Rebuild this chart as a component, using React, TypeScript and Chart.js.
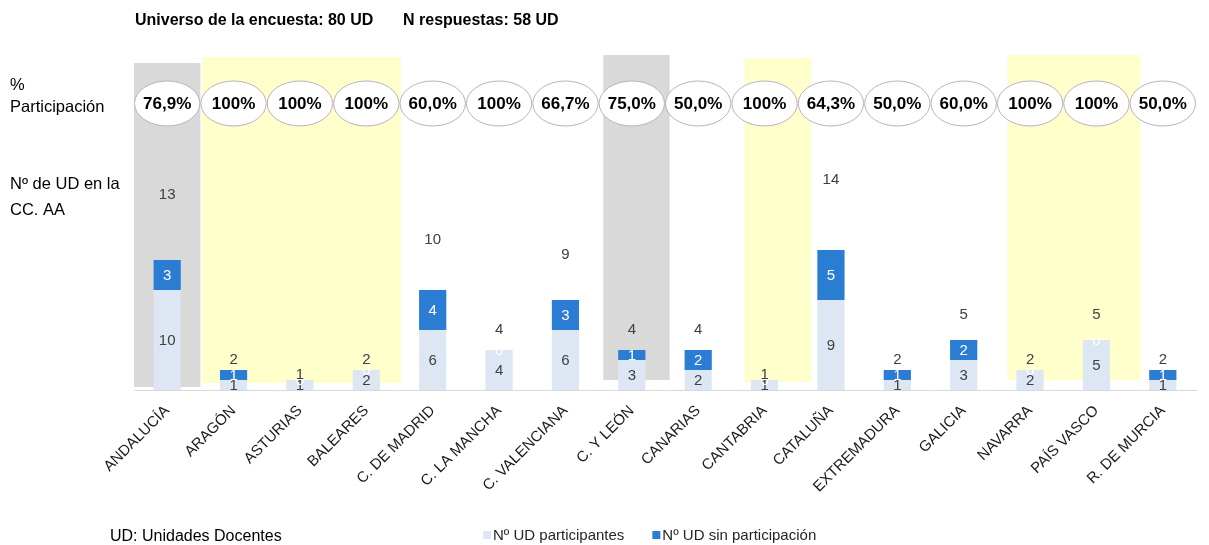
import React, { useEffect, useRef } from "react";
import { Chart, registerables } from "chart.js";

Chart.register(...registerables);

const categories = [
  "ANDALUCÍA", "ARAGÓN", "ASTURIAS", "BALEARES", "C. DE MADRID", "C. LA MANCHA",
  "C. VALENCIANA", "C. Y LEÓN", "CANARIAS", "CANTABRIA", "CATALUÑA", "EXTREMADURA",
  "GALICIA", "NAVARRA", "PAÍS VASCO", "R. DE MURCIA",
];
const participantes = [10, 1, 1, 2, 6, 4, 6, 3, 2, 1, 9, 1, 3, 2, 5, 1];
const sinParticipacion = [3, 1, 0, 0, 4, 0, 3, 1, 2, 0, 5, 1, 2, 0, 0, 1];
const totales = [13, 2, 1, 2, 10, 4, 9, 4, 4, 1, 14, 2, 5, 2, 5, 2];
const participacion = [
  "76,9%", "100%", "100%", "100%", "60,0%", "100%", "66,7%", "75,0%",
  "50,0%", "100%", "64,3%", "50,0%", "60,0%", "100%", "100%", "50,0%",
];
const seriesNames = ["Nº UD participantes", "Nº UD sin participación"];
const titleParts = ["Universo de la encuesta: 80 UD", "N respuestas: 58 UD"];
const sideLabels = [["%", "Participación"], ["Nº de UD en la", "CC. AA"]];
const footnote = "UD: Unidades Docentes";

// highlighted groups of communities (category index ranges)
const grayGroups = [[0, 0], [7, 7]];
const yellowGroups = [[1, 3], [9, 9], [13, 14]];

const LIGHT = "#dde7f3";
const DARK = "#2b7cd3";
const GRAY_BAND = "#d9d9d9";
const YELLOW_BAND = "#ffffcc";
const FONT = "'Liberation Sans', Arial, sans-serif";

// per-group visual tweaks (shift in category fractions, top/bottom px offsets)
const bandStyle: Record<string, { shift: number; top: number; bottom: number }> = {
  "0-0": { shift: 0, top: 3, bottom: 3 },
  "7-7": { shift: 0.07, top: -5, bottom: 10 },
  "1-3": { shift: 0.02, top: -3, bottom: 7 },
  "9-9": { shift: 0.2, top: -2, bottom: 8 },
  "13-14": { shift: 0.16, top: -5, bottom: 10 },
};

const decorPlugin = {
  id: "decor",
  beforeDatasetsDraw(chart: any) {
    const { ctx, chartArea, scales } = chart;
    const x = scales.x;
    const cw = x.getPixelForValue(1) - x.getPixelForValue(0);
    const draw = (groups: number[][], color: string) => {
      groups.forEach(([a, b]) => {
        const st = bandStyle[`${a}-${b}`] || { shift: 0, top: 0, bottom: 5 };
        const left = x.getPixelForValue(a) - cw / 2 + st.shift * cw;
        const right = x.getPixelForValue(b) + cw / 2 + st.shift * cw;
        const top = chartArea.top + st.top;
        const bottom = chartArea.bottom - st.bottom;
        ctx.save();
        ctx.fillStyle = color;
        ctx.fillRect(left, top, right - left, bottom - top);
        ctx.restore();
      });
    };
    draw(grayGroups, GRAY_BAND);
    draw(yellowGroups, YELLOW_BAND);
  },
  afterDatasetsDraw(chart: any) {
    const { ctx, chartArea, scales } = chart;
    const x = scales.x;
    const y = scales.y;
    const cw = x.getPixelForValue(1) - x.getPixelForValue(0);
    ctx.save();
    ctx.textAlign = "center";
    ctx.textBaseline = "middle";

    // segment labels
    chart.data.datasets.forEach((ds: any, di: number) => {
      const meta = chart.getDatasetMeta(di);
      ctx.font = `15px ${FONT}`;
      ctx.fillStyle = di === 0 ? "#404040" : "#ffffff";
      meta.data.forEach((bar: any, i: number) => {
        const v = ds.data[i];
        const cy = v === 0 ? bar.y : (bar.y + bar.base) / 2;
        ctx.fillText(String(v), bar.x, cy + 1);
      });
    });

    // totals
    ctx.font = `15px ${FONT}`;
    ctx.fillStyle = "#404040";
    totales.forEach((t, i) => {
      ctx.fillText(String(t), x.getPixelForValue(i), y.getPixelForValue(t * 1.5));
    });

    // ellipses with participation %
    const ey = chartArea.top + 43.5;
    participacion.forEach((p, i) => {
      const cx = x.getPixelForValue(i);
      ctx.beginPath();
      ctx.ellipse(cx, ey, cw / 2 - 0.5, 22.5, 0, 0, Math.PI * 2);
      ctx.fillStyle = "#ffffff";
      ctx.fill();
      ctx.lineWidth = 1;
      ctx.strokeStyle = "#bdb0c2";
      ctx.stroke();
      ctx.fillStyle = "#000000";
      ctx.font = `bold 17px ${FONT}`;
      ctx.fillText(p, cx, ey + 1);
    });

    // title
    ctx.textAlign = "left";
    ctx.fillStyle = "#000000";
    ctx.font = `bold 16px ${FONT}`;
    ctx.fillText(titleParts[0], 135, 21);
    ctx.fillText(titleParts[1], 403, 21);

    // side labels
    ctx.font = `16.5px ${FONT}`;
    ctx.fillText(sideLabels[0][0], 10, 85);
    ctx.fillText(sideLabels[0][1], 10, 107);
    ctx.fillText(sideLabels[1][0], 10, 184);
    ctx.fillText(sideLabels[1][1], 10, 210);

    // footnote
    ctx.font = `16px ${FONT}`;
    ctx.fillText(footnote, 110, 537);

    // legend
    ctx.font = `15px ${FONT}`;
    let lx = 483;
    const ly = 535;
    chart.data.datasets.forEach((ds: any) => {
      ctx.fillStyle = ds.backgroundColor;
      ctx.fillRect(lx, ly - 4, 8, 8);
      ctx.fillStyle = "#262626";
      ctx.fillText(ds.label, lx + 10, ly + 1);
      lx += 10 + ctx.measureText(ds.label).width + 28;
    });
    ctx.restore();
  },
};

export default function App() {
  const ref = useRef<HTMLCanvasElement>(null);
  useEffect(() => {
    if (!ref.current) return;
    const chart = new Chart(ref.current, {
      type: "bar",
      data: {
        labels: categories,
        datasets: [
          { label: seriesNames[0], data: participantes, backgroundColor: LIGHT },
          { label: seriesNames[1], data: sinParticipacion, backgroundColor: DARK },
        ],
      },
      options: {
        responsive: false,
        animation: false,
        layout: { padding: { left: 134, right: 13, top: 60, bottom: 0 } },
        datasets: { bar: { categoryPercentage: 1, barPercentage: 0.41 } },
        plugins: { legend: { display: false }, tooltip: { enabled: false }, title: { display: false } },
        scales: {
          x: {
            stacked: true,
            grid: { display: false },
            border: { display: true, color: "#d9d9d9", width: 1 },
            ticks: {
              autoSkip: false,
              minRotation: 45,
              maxRotation: 45,
              color: "#1a1a1a",
              font: { family: FONT, size: 15 },
              padding: 4,
            },
            afterFit: (s: any) => { s.height = 155; },
          },
          y: {
            stacked: true,
            display: false,
            min: 0,
            max: 33,
          },
        },
      },
      plugins: [decorPlugin],
    });
    return () => chart.destroy();
  }, []);
  return (
    <div style={{ position: "absolute", left: 0, top: 0, width: 1209, height: 545 }}>
      <canvas ref={ref} width={1209} height={545} />
    </div>
  );
}
